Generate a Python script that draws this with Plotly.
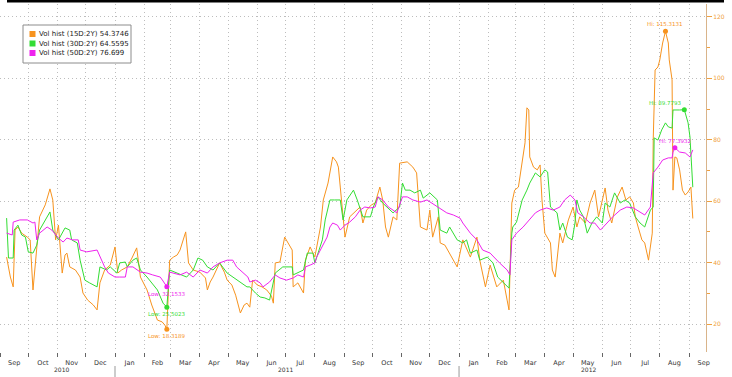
import plotly.graph_objects as go

# ---------------- data ----------------
d15 = ["2010-09-08","2010-09-12","2010-09-15","2010-09-17","2010-09-20","2010-09-24","2010-09-30","2010-10-03","2010-10-06","2010-10-10",
       "2010-10-13","2010-10-19","2010-10-24","2010-10-27","2010-10-30","2010-11-02","2010-11-06","2010-11-09","2010-11-11","2010-11-14",
       "2010-11-20","2010-11-25","2010-11-28","2010-12-03","2010-12-09","2010-12-13","2010-12-16","2010-12-21","2010-12-27","2011-01-01",
       "2011-01-04","2011-01-08","2011-01-14","2011-01-19","2011-01-24","2011-01-28","2011-02-01","2011-02-04","2011-02-09","2011-02-15",
       "2011-02-20","2011-02-23","2011-02-25","2011-02-28","2011-03-04","2011-03-08","2011-03-11","2011-03-17","2011-03-20","2011-03-25",
       "2011-04-01","2011-04-07","2011-04-09","2011-04-12","2011-04-15","2011-04-19","2011-04-22","2011-04-27","2011-04-30","2011-05-05",
       "2011-05-09","2011-05-14","2011-05-18","2011-05-21","2011-05-24","2011-05-27","2011-06-01","2011-06-06","2011-06-11","2011-06-16",
       "2011-06-18","2011-06-20","2011-06-25","2011-06-30","2011-07-05","2011-07-08","2011-07-09","2011-07-14","2011-07-20","2011-07-22",
       "2011-07-27","2011-08-01","2011-08-07","2011-08-10","2011-08-15","2011-08-20","2011-08-24","2011-08-26","2011-08-28","2011-08-31",
       "2011-09-02","2011-09-07","2011-09-13","2011-09-18","2011-09-21","2011-09-25","2011-09-30","2011-10-04","2011-10-09","2011-10-12",
       "2011-10-15","2011-10-18","2011-10-23","2011-10-27","2011-10-30","2011-11-07","2011-11-13","2011-11-17","2011-11-21","2011-11-28",
       "2011-12-01","2011-12-04","2011-12-10","2011-12-12","2011-12-17","2011-12-22","2011-12-30","2012-01-05","2012-01-13","2012-01-20",
       "2012-01-23","2012-01-29","2012-02-03","2012-02-10","2012-02-17","2012-02-21","2012-02-23","2012-02-26","2012-02-29","2012-03-04",
       "2012-03-08","2012-03-11","2012-03-13","2012-03-15","2012-03-16","2012-03-20","2012-03-24","2012-03-27","2012-03-29","2012-04-01",
       "2012-04-07","2012-04-09","2012-04-12","2012-04-14","2012-04-17","2012-04-20","2012-04-26","2012-05-01","2012-05-05","2012-05-08",
       "2012-05-14","2012-05-19","2012-05-24","2012-05-28","2012-05-31","2012-06-04","2012-06-07","2012-06-11","2012-06-17","2012-06-22",
       "2012-06-26","2012-06-30","2012-07-04","2012-07-06","2012-07-09","2012-07-13","2012-07-16","2012-07-20","2012-07-24","2012-07-25",
       "2012-07-27","2012-07-30","2012-08-01","2012-08-04","2012-08-07","2012-08-10","2012-08-11","2012-08-14","2012-08-15","2012-08-17",
       "2012-08-19","2012-08-22","2012-08-25","2012-08-28","2012-08-31","2012-09-03","2012-09-05"]
v15 = [41.8,35.3,32.1,50.6,51.6,49.6,48.3,47.4,31.1,44.1,
       54.9,58.8,64.0,60.4,47.4,52.2,36.6,42.5,43.1,38.6,
       37.6,35.3,30.1,27.8,26.2,24.6,33.4,37.6,39.2,45.1,
       36.6,37.6,38.6,41.5,44.8,35.3,32.7,31.1,26.2,21.3,
       20.7,19.6,18.3189,40.8,41.8,42.5,44.1,50.0,39.9,37.6,
       36.9,35.0,31.1,33.7,35.3,38.2,39.9,36.9,34.3,32.7,
       29.4,23.6,26.2,26.8,25.5,34.3,32.7,32.1,31.1,29.1,
       26.8,39.9,40.2,48.3,45.7,44.1,32.1,33.4,30.1,40.8,
       45.1,41.8,51.6,60.4,65.9,74.4,72.8,71.1,64.6,54.9,
       48.3,54.9,56.5,58.1,52.9,57.1,58.8,59.4,64.6,60.4,
       51.6,48.3,54.9,53.9,72.4,72.8,71.1,69.2,51.6,50.6,
       57.1,48.3,54.9,46.4,45.7,43.1,38.6,47.4,41.8,48.3,
       40.8,32.1,39.2,32.1,34.3,27.8,24.6,59.4,63.6,64.6,
       72.4,79.0,90.4,89.7,74.4,71.1,70.2,71.8,60.4,49.6,
       46.4,37.6,35.3,41.8,49.6,46.4,53.9,58.1,51.6,54.9,
       52.9,59.4,63.6,54.9,59.4,64.3,57.1,52.9,61.4,64.6,
       60.4,61.4,59.4,54.9,51.6,47.4,46.4,40.8,49.6,79.9,
       102.7,103.7,106.0,111.5,115.3131,111.5,106.0,99.5,63.6,74.4,
       74.1,70.2,63.6,62.0,63.0,64.6,54.3746]

d30 = ["2010-09-08","2010-09-10","2010-09-15","2010-09-16","2010-09-20","2010-09-24","2010-09-28","2010-10-01","2010-10-06","2010-10-10",
       "2010-10-13","2010-10-21","2010-10-24","2010-10-27","2010-11-02","2010-11-09","2010-11-14","2010-11-16","2010-11-22","2010-11-25",
       "2010-11-30","2010-12-05","2010-12-13","2010-12-16","2010-12-23","2010-12-27","2011-01-03","2011-01-06","2011-01-12","2011-01-14",
       "2011-01-20","2011-01-24","2011-01-28","2011-02-04","2011-02-09","2011-02-15","2011-02-21","2011-02-25","2011-02-28","2011-03-08",
       "2011-03-18","2011-03-25","2011-03-30","2011-04-04","2011-04-09","2011-04-15","2011-04-22","2011-04-30","2011-05-06","2011-05-14",
       "2011-05-21","2011-05-24","2011-05-30","2011-06-04","2011-06-09","2011-06-14","2011-06-20","2011-06-28","2011-07-08","2011-07-09",
       "2011-07-20","2011-07-24","2011-07-30","2011-08-01","2011-08-04","2011-08-09","2011-08-12","2011-08-17","2011-08-22","2011-08-28",
       "2011-08-31","2011-09-04","2011-09-11","2011-09-15","2011-09-21","2011-09-29","2011-10-02","2011-10-07","2011-10-12","2011-10-20",
       "2011-10-23","2011-10-30","2011-11-02","2011-11-05","2011-11-10","2011-11-15","2011-11-21","2011-11-24","2011-12-01","2011-12-09",
       "2011-12-12","2011-12-19","2011-12-22","2011-12-30","2012-01-05","2012-01-09","2012-01-13","2012-01-20","2012-01-23","2012-01-31",
       "2012-02-06","2012-02-11","2012-02-19","2012-02-23","2012-02-26","2012-02-27","2012-03-02","2012-03-08","2012-03-13","2012-03-16",
       "2012-03-22","2012-03-27","2012-04-01","2012-04-04","2012-04-07","2012-04-14","2012-04-17","2012-04-20","2012-04-25","2012-04-30",
       "2012-05-03","2012-05-05","2012-05-08","2012-05-12","2012-05-16","2012-05-21","2012-05-26","2012-06-01","2012-06-04","2012-06-09",
       "2012-06-14","2012-06-20","2012-06-25","2012-06-30","2012-07-06","2012-07-11","2012-07-16","2012-07-22","2012-07-25","2012-07-26",
       "2012-07-30","2012-08-03","2012-08-07","2012-08-10","2012-08-14","2012-08-15","2012-08-22","2012-08-27","2012-08-31","2012-09-02",
       "2012-09-05"]
v30 = [54.5,41.5,41.5,50.6,52.2,49.0,48.3,43.5,43.1,45.7,
       50.6,54.9,56.5,50.6,47.4,51.3,50.6,47.4,46.4,40.8,
       34.3,33.4,32.1,38.6,37.6,38.6,36.6,39.9,40.2,38.6,
       40.8,41.5,37.6,35.3,33.4,31.1,26.8,25.5023,37.6,36.6,
       35.3,37.6,41.5,40.8,38.6,37.6,39.9,36.6,35.3,33.4,
       32.1,32.1,30.1,28.8,28.5,27.8,36.6,38.6,38.6,36.0,
       37.6,43.1,43.1,39.9,42.5,47.4,53.9,60.4,60.4,60.4,
       53.9,60.4,63.6,60.4,54.9,54.9,58.1,61.4,59.4,57.1,
       56.2,58.1,65.9,63.6,63.6,62.7,63.6,61.0,62.7,60.4,
       50.6,49.6,51.6,47.4,46.4,47.4,43.1,44.1,40.8,41.8,
       39.9,35.3,32.7,31.7,49.6,51.6,53.2,60.4,63.6,65.9,
       69.2,67.9,70.2,69.5,58.1,56.2,50.6,52.9,48.3,47.4,
       52.9,60.4,57.1,54.9,49.6,52.9,54.9,52.9,59.4,58.1,
       62.7,59.4,60.4,59.4,54.9,52.9,51.6,57.1,58.1,80.6,
       79.9,83.2,85.5,84.2,83.8,89.7,89.7,89.7793,85.5,80.9,
       64.5595]

d50 = ["2010-09-08","2010-09-14","2010-09-15","2010-09-22","2010-09-30","2010-10-06","2010-10-08","2010-10-10","2010-10-13","2010-10-21",
       "2010-10-26","2010-11-02","2010-11-07","2010-11-11","2010-11-17","2010-11-23","2010-11-25","2010-12-02","2010-12-13","2010-12-16",
       "2010-12-21","2010-12-25","2011-01-01","2011-01-06","2011-01-12","2011-01-14","2011-01-20","2011-01-28","2011-02-04","2011-02-10",
       "2011-02-18","2011-02-21","2011-02-25","2011-02-28","2011-03-11","2011-03-18","2011-03-25","2011-04-01","2011-04-09","2011-04-15",
       "2011-04-22","2011-04-30","2011-05-06","2011-05-10","2011-05-17","2011-05-22","2011-05-24","2011-05-30","2011-06-04","2011-06-07",
       "2011-06-14","2011-06-20","2011-06-25","2011-07-02","2011-07-09","2011-07-14","2011-07-20","2011-07-22","2011-07-27","2011-08-01",
       "2011-08-03","2011-08-09","2011-08-14","2011-08-17","2011-08-20","2011-08-25","2011-08-28","2011-09-02","2011-09-07","2011-09-13",
       "2011-09-18","2011-09-23","2011-09-29","2011-10-04","2011-10-07","2011-10-12","2011-10-18","2011-10-23","2011-10-27","2011-11-02",
       "2011-11-07","2011-11-13","2011-11-21","2011-11-28","2011-12-03","2011-12-09","2011-12-14","2011-12-19","2011-12-26","2012-01-02",
       "2012-01-05","2012-01-13","2012-01-20","2012-01-26","2012-02-03","2012-02-10","2012-02-13","2012-02-21","2012-02-24","2012-02-26",
       "2012-03-02","2012-03-09","2012-03-16","2012-03-22","2012-03-27","2012-04-03","2012-04-10","2012-04-17","2012-04-22","2012-04-28",
       "2012-05-03","2012-05-06","2012-05-12","2012-05-19","2012-05-24","2012-05-30","2012-06-06","2012-06-12","2012-06-20","2012-06-27",
       "2012-07-04","2012-07-11","2012-07-16","2012-07-22","2012-07-25","2012-07-30","2012-08-04","2012-08-10","2012-08-14","2012-08-15",
       "2012-08-17","2012-08-22","2012-08-28","2012-09-02","2012-09-05"]
v50 = [49.6,49.0,53.2,53.9,53.9,52.9,53.2,47.4,49.6,51.6,
       50.6,48.0,46.7,48.0,47.4,47.4,44.1,43.5,44.1,41.8,
       38.6,36.6,35.3,35.3,35.3,38.6,38.6,36.9,36.6,36.0,
       35.3,34.0,32.1533,36.9,36.0,36.9,35.3,37.6,36.6,38.6,
       39.9,40.8,40.8,38.6,36.6,35.3,33.7,34.3,33.4,32.1,
       33.7,36.0,35.0,34.3,35.0,36.0,35.3,38.6,39.2,39.9,
       41.8,45.1,48.3,51.6,52.9,52.2,50.6,52.2,53.2,54.9,
       57.1,58.1,57.8,58.1,61.4,60.4,58.1,57.1,56.2,61.4,
       61.4,60.4,59.7,60.4,59.4,58.1,57.1,56.2,55.5,54.5,
       52.9,49.6,47.4,44.1,43.1,40.8,39.9,37.6,36.0,47.4,
       49.6,51.6,53.9,56.2,57.1,57.8,57.1,58.1,60.4,62.0,
       60.4,56.2,54.9,52.9,52.9,50.6,52.9,54.9,57.1,58.1,
       57.8,56.5,55.5,58.1,69.2,71.1,73.4,74.1,74.1,76.0,
       77.3932,76.0,75.7,74.4,76.699]

series_names = ["Vol hist (15D:2Y)", "Vol hist (30D:2Y)", "Vol hist (50D:2Y)"]
last_values = ["54.3746", "64.5595", "76.699"]
colors = ["#f7931e", "#33dd33", "#ee22ee"]

hi_dates = ["2012-08-07", "2012-08-27", "2012-08-17"]
hi_values = [115.3131, 89.7793, 77.3932]
low_dates = ["2011-02-25", "2011-02-25", "2011-02-25"]
low_values = [18.3189, 25.5023, 32.1533]

y_ticks = [20, 40, 60, 80, 100, 120]
years = ["2010", "2011", "2012"]
year_label_dates = ["2010-11-05", "2011-07-01", "2012-05-17"]
year_breaks = ["2011-01-01", "2012-01-01"]

# ---------------- figure ----------------
fig = go.Figure()
dates_all = [d15, d30, d50]
vals_all = [v15, v30, v50]
for d, v, c, n in zip(dates_all, vals_all, colors, series_names):
    fig.add_trace(go.Scatter(x=d, y=v, mode="lines", name=n,
                             line=dict(color=c, width=1), showlegend=False, hoverinfo="skip"))

for i in range(3):
    fig.add_trace(go.Scatter(x=[hi_dates[i], low_dates[i]], y=[hi_values[i], low_values[i]],
                             mode="markers", marker=dict(color=colors[i], size=5),
                             showlegend=False, hoverinfo="skip"))

ann_font = dict(family="DejaVu Sans", size=5.5)
annotations = []
hi_anchor = ["center", "right", "center"]
for i in range(3):
    annotations.append(dict(x=hi_dates[i], y=hi_values[i], xref="x", yref="y",
                            text="Hi: %.4f" % hi_values[i], showarrow=False,
                            xanchor=hi_anchor[i], yanchor="bottom", yshift=2,
                            font=dict(ann_font, color=colors[i])))
for i in range(3):
    annotations.append(dict(x=low_dates[i], y=low_values[i], xref="x", yref="y",
                            text="Low: %.4f" % low_values[i], showarrow=False,
                            xanchor="center", yanchor="top", yshift=-2,
                            font=dict(ann_font, color=colors[i])))
for yl, yd in zip(years, year_label_dates):
    annotations.append(dict(x=yd, y=-0.035, xref="x", yref="paper", text=yl,
                            showarrow=False, xanchor="center", yanchor="top",
                            font=dict(family="DejaVu Sans", size=6, color="#333333")))

# custom legend (layout positions in plot-area pixels)
W, H = 706.0, 348.0
def px_x(p):
    return p / W
def px_y(p):
    return (352.0 - p) / H

shapes = []
shapes.append(dict(type="rect", xref="paper", yref="paper",
                   x0=px_x(23), x1=px_x(131), y0=px_y(63), y1=px_y(25),
                   line=dict(color="#8c8c8c", width=1), fillcolor="white", layer="above"))
legend_rows = [34, 43.5, 53]
for i in range(3):
    shapes.append(dict(type="rect", xref="paper", yref="paper",
                       x0=px_x(29.5), x1=px_x(35.5), y0=px_y(legend_rows[i] + 3), y1=px_y(legend_rows[i] - 3),
                       line=dict(width=0), fillcolor=colors[i], layer="above"))
    annotations.append(dict(x=px_x(37), y=px_y(legend_rows[i]), xref="paper", yref="paper",
                            text=series_names[i] + " " + last_values[i], showarrow=False,
                            xanchor="left", yanchor="middle",
                            font=dict(family="DejaVu Sans", size=7, color="#222222")))

shapes.append(dict(type="rect", xref="paper", yref="paper",
                   x0=px_x(7), x1=px_x(724), y0=px_y(2.5), y1=px_y(0),
                   line=dict(width=0), fillcolor="black"))
for yb in year_breaks:
    shapes.append(dict(type="line", xref="x", yref="paper", x0=yb, x1=yb,
                       y0=px_y(366), y1=px_y(377), line=dict(color="#999999", width=1)))

fig.update_layout(
    width=732, height=377,
    margin=dict(l=0, r=26, t=4, b=25),
    paper_bgcolor="white", plot_bgcolor="white",
    showlegend=False,
    annotations=annotations, shapes=shapes,
    xaxis=dict(type="date", range=["2010-09-01", "2012-09-19"],
               tick0="2010-09-01", dtick="M1", tickformat="%b", ticklabelmode="period",
               showgrid=True, gridcolor="#bdbdbd", griddash="1px,3px", gridwidth=1,
               ticks="outside", ticklen=4, tickcolor="#666666",
               tickfont=dict(family="DejaVu Sans", size=6.5, color="#333333"),
               showline=False, zeroline=False, automargin=False, fixedrange=True),
    yaxis=dict(side="right", range=[10.9, 124.2], tickvals=y_ticks,
               showgrid=True, gridcolor="#bdbdbd", griddash="1px,3px", gridwidth=1,
               ticks="outside", ticklen=5, tickcolor="#f0a040", tickwidth=1,
               minor=dict(dtick=10, tick0=0, ticks="outside", ticklen=3, tickcolor="#f0a040", showgrid=False),
               showline=True, linecolor="#d9b48a", linewidth=1,
               tickfont=dict(family="DejaVu Sans", size=6, color="#f0a040"),
               zeroline=False, automargin=False, fixedrange=True),
)

fig.write_html("out.html", config={"displayModeBar": False, "staticPlot": True},
               post_script="document.body.style.margin='0';document.body.style.overflow='hidden';")
